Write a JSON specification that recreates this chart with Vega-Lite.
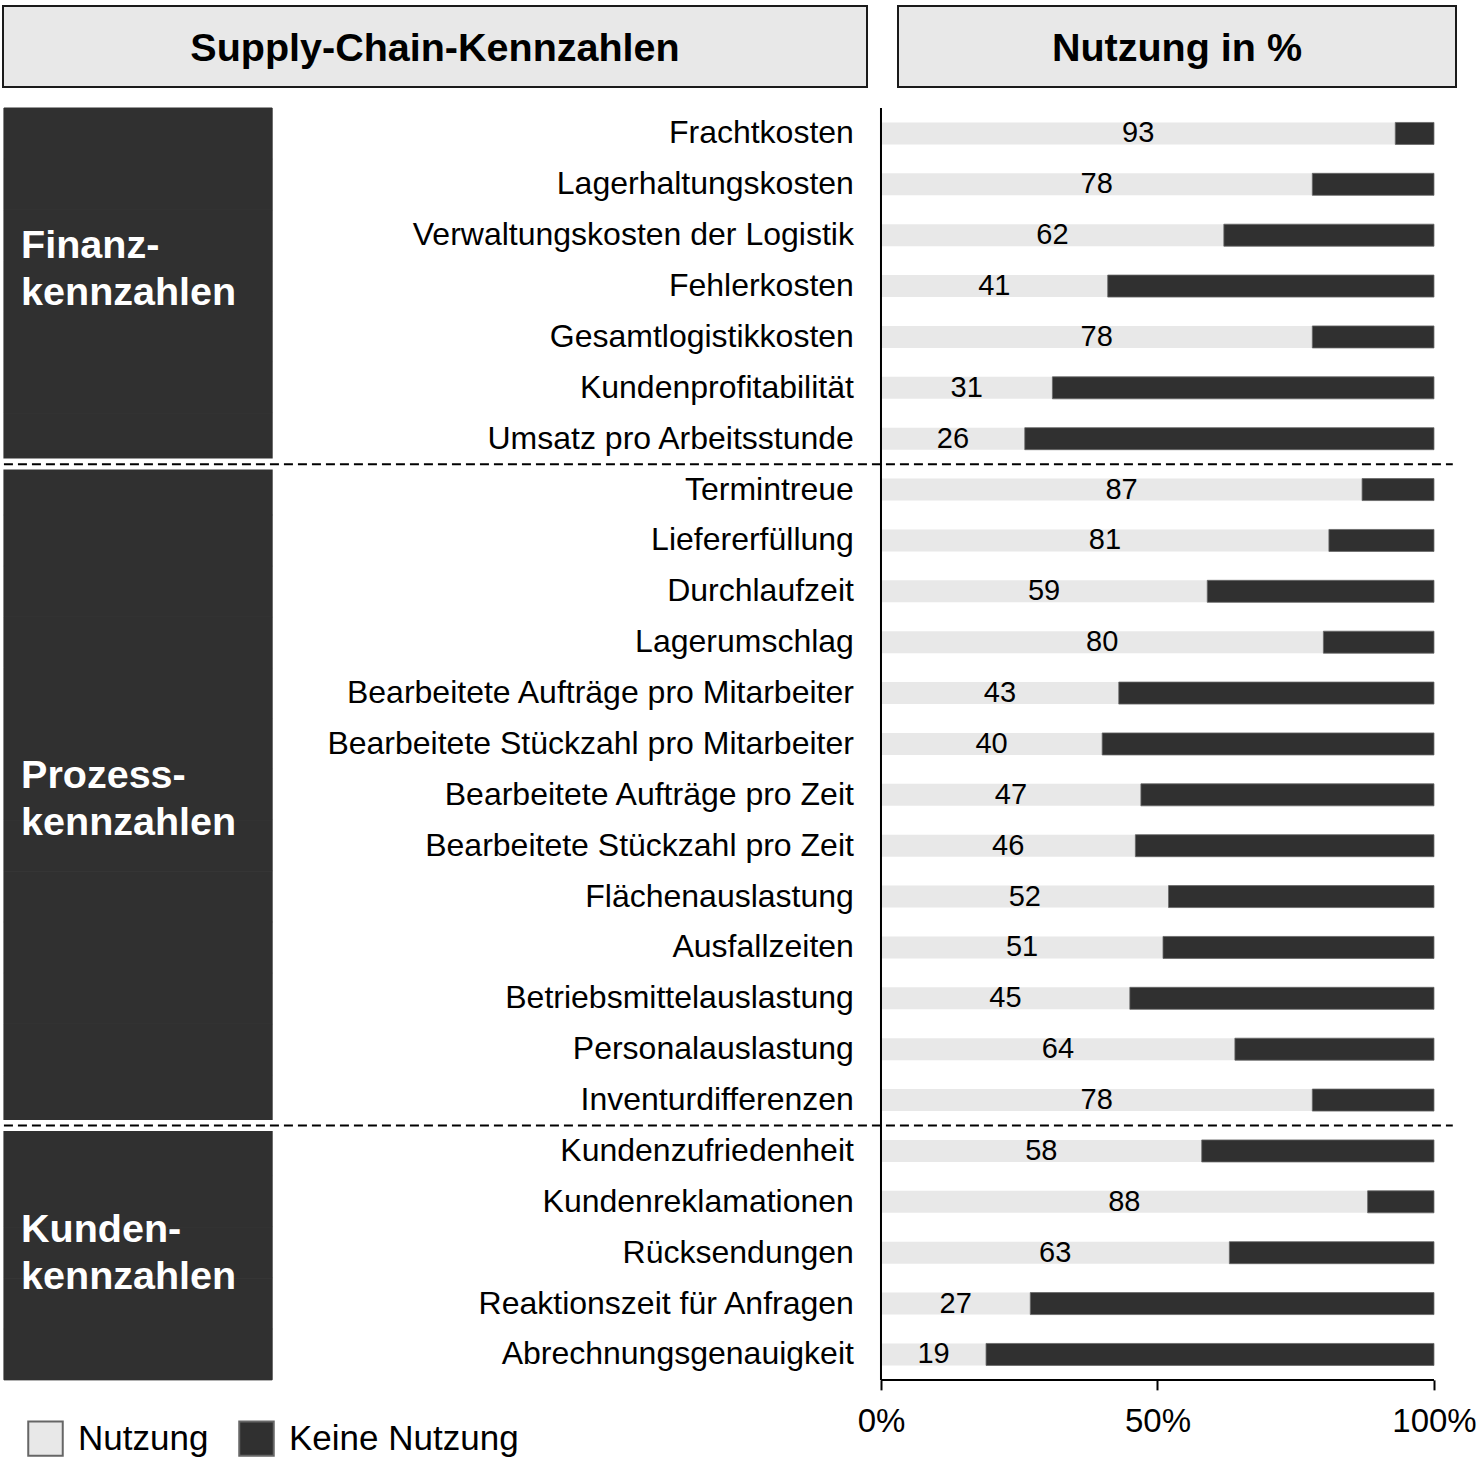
{
  "$schema": "https://vega.github.io/schema/vega-lite/v6.json",
  "background": "white",
  "padding": {"left": 2, "top": 5, "right": 0, "bottom": 0},
  "config": {"font": "Liberation Sans", "view": {"stroke": null}},
  "datasets": {
    "kopf": [{"titel": "Supply-Chain-Kennzahlen"}, {"titel": "Nutzung in %"}],
    "gruppen": [
      {"gruppe": "Finanz", "label": "Finanz-\nkennzahlen"},
      {"gruppe": "Prozess", "label": "Prozess-\nkennzahlen"},
      {"gruppe": "Kunden", "label": "Kunden-\nkennzahlen"}
    ],
    "kennzahlen": [
      {"gruppe": "Finanz", "kennzahl": "Frachtkosten", "nutzung": 93},
      {"gruppe": "Finanz", "kennzahl": "Lagerhaltungskosten", "nutzung": 78},
      {"gruppe": "Finanz", "kennzahl": "Verwaltungskosten der Logistik", "nutzung": 62},
      {"gruppe": "Finanz", "kennzahl": "Fehlerkosten", "nutzung": 41},
      {"gruppe": "Finanz", "kennzahl": "Gesamtlogistikkosten", "nutzung": 78},
      {"gruppe": "Finanz", "kennzahl": "Kundenprofitabilität", "nutzung": 31},
      {"gruppe": "Finanz", "kennzahl": "Umsatz pro Arbeitsstunde", "nutzung": 26},
      {"gruppe": "Prozess", "kennzahl": "Termintreue", "nutzung": 87},
      {"gruppe": "Prozess", "kennzahl": "Liefererfüllung", "nutzung": 81},
      {"gruppe": "Prozess", "kennzahl": "Durchlaufzeit", "nutzung": 59},
      {"gruppe": "Prozess", "kennzahl": "Lagerumschlag", "nutzung": 80},
      {"gruppe": "Prozess", "kennzahl": "Bearbeitete Aufträge pro Mitarbeiter", "nutzung": 43},
      {"gruppe": "Prozess", "kennzahl": "Bearbeitete Stückzahl pro Mitarbeiter", "nutzung": 40},
      {"gruppe": "Prozess", "kennzahl": "Bearbeitete Aufträge pro Zeit", "nutzung": 47},
      {"gruppe": "Prozess", "kennzahl": "Bearbeitete Stückzahl pro Zeit", "nutzung": 46},
      {"gruppe": "Prozess", "kennzahl": "Flächenauslastung", "nutzung": 52},
      {"gruppe": "Prozess", "kennzahl": "Ausfallzeiten", "nutzung": 51},
      {"gruppe": "Prozess", "kennzahl": "Betriebsmittelauslastung", "nutzung": 45},
      {"gruppe": "Prozess", "kennzahl": "Personalauslastung", "nutzung": 64},
      {"gruppe": "Prozess", "kennzahl": "Inventurdifferenzen", "nutzung": 78},
      {"gruppe": "Kunden", "kennzahl": "Kundenzufriedenheit", "nutzung": 58},
      {"gruppe": "Kunden", "kennzahl": "Kundenreklamationen", "nutzung": 88},
      {"gruppe": "Kunden", "kennzahl": "Rücksendungen", "nutzung": 63},
      {"gruppe": "Kunden", "kennzahl": "Reaktionszeit für Anfragen", "nutzung": 27},
      {"gruppe": "Kunden", "kennzahl": "Abrechnungsgenauigkeit", "nutzung": 19}
    ]
  },
  "spacing": 19,
  "vconcat": [
    {
      "spacing": 29,
      "hconcat": [
        {
          "width": 864, "height": 81,
          "view": {"fill": "#e8e8e8", "stroke": "#1a1a1a", "strokeWidth": 2},
          "data": {"name": "kopf"},
          "transform": [{"filter": "datum.titel == 'Supply-Chain-Kennzahlen'"}],
          "mark": {"type": "text", "fontSize": 39.5, "fontWeight": "bold", "color": "#000", "align": "center", "baseline": "middle", "dy": 2},
          "encoding": {"text": {"field": "titel"}}
        },
        {
          "width": 558, "height": 81,
          "view": {"fill": "#e8e8e8", "stroke": "#1a1a1a", "strokeWidth": 2},
          "data": {"name": "kopf"},
          "transform": [{"filter": "datum.titel == 'Nutzung in %'"}],
          "mark": {"type": "text", "fontSize": 39.5, "fontWeight": "bold", "color": "#000", "align": "center", "baseline": "middle", "dy": 2},
          "encoding": {"text": {"field": "titel"}}
        }
      ]
    },
    {
      "width": 1451,
      "height": {"step": 50.875},
      "data": {"name": "kennzahlen"},
      "layer": [
        {
          "mark": {"type": "bar", "color": "#303030", "stroke": "#303030", "strokeWidth": 1},
          "encoding": {
            "y": {"field": "kennzahl", "type": "nominal", "sort": null, "scale": {"paddingInner": 0, "paddingOuter": 0}, "axis": null},
            "x": {"datum": -158.6, "type": "quantitative",
                  "scale": {"domain": [-158.77, 103.62], "nice": false, "zero": false},
                  "axis": {"title": null, "values": [0, 50, 100], "domain": false, "grid": false, "ticks": true, "tickSize": 10, "tickWidth": 2, "tickColor": "#000", "labelExpr": "datum.value + '%'", "labelFontSize": 33, "labelColor": "#000", "labelPadding": 16, "labelFont": "Liberation Sans"}},
            "x2": {"datum": -110.1}
          }
        },
        {
          "transform": [{"filter": "datum.kennzahl == 'Termintreue' || datum.kennzahl == 'Kundenzufriedenheit'"}],
          "mark": {"type": "bar", "color": "white", "size": 11, "yOffset": -25.44},
          "encoding": {
            "y": {"field": "kennzahl", "type": "nominal", "sort": null},
            "x": {"datum": -158.77, "type": "quantitative"},
            "x2": {"datum": -109.8}
          }
        },
        {
          "transform": [{"filter": "datum.kennzahl == 'Termintreue' || datum.kennzahl == 'Kundenzufriedenheit'"}],
          "mark": {"type": "rule", "color": "#000", "strokeWidth": 2, "strokeDash": [9, 5]},
          "encoding": {
            "y": {"field": "kennzahl", "type": "nominal", "sort": null, "bandPosition": 0},
            "x": {"datum": -158.6, "type": "quantitative"},
            "x2": {"datum": 103.4}
          }
        },
        {
          "mark": {"type": "bar", "size": 22},
          "encoding": {
            "y": {"field": "kennzahl", "type": "nominal", "sort": null},
            "x": {"field": "nutzung", "type": "quantitative", "title": null},
            "x2": {"datum": 0},
            "color": {"datum": "Nutzung",
                      "scale": {"domain": ["Nutzung", "Keine Nutzung"], "range": ["#e8e8e8", "#303030"]},
                      "legend": {"orient": "none", "legendX": 24, "legendY": 1414, "direction": "horizontal", "title": null,
                                 "symbolType": "square", "symbolSize": 1190, "symbolStrokeColor": "#000", "symbolStrokeWidth": 2,
                                 "symbolOpacity": 1, "labelFontSize": 35, "labelColor": "#000", "labelOffset": 14, "labelLimit": 400,
                                 "columnPadding": 26, "labelFont": "Liberation Sans"}}
          }
        },
        {
          "mark": {"type": "bar", "size": 22, "stroke": "#666", "strokeWidth": 0.8},
          "encoding": {
            "y": {"field": "kennzahl", "type": "nominal", "sort": null},
            "x": {"field": "nutzung", "type": "quantitative", "title": null},
            "x2": {"datum": 100},
            "color": {"datum": "Keine Nutzung"}
          }
        },
        {
          "transform": [{"filter": "datum.kennzahl == 'Abrechnungsgenauigkeit'"}],
          "mark": {"type": "rule", "color": "#000", "strokeWidth": 2},
          "encoding": {
            "y": {"field": "kennzahl", "type": "nominal", "sort": null, "bandPosition": 1},
            "x": {"datum": 0, "type": "quantitative"},
            "x2": {"datum": 100}
          }
        },
        {
          "transform": [{"filter": "datum.kennzahl == 'Frachtkosten'"}],
          "mark": {"type": "rule", "color": "#000", "strokeWidth": 2},
          "encoding": {
            "x": {"datum": 0, "type": "quantitative"}
          }
        },
        {
          "mark": {"type": "text", "align": "right", "baseline": "middle", "fontSize": 32, "color": "#000"},
          "encoding": {
            "y": {"field": "kennzahl", "type": "nominal", "sort": null},
            "x": {"datum": -4.9, "type": "quantitative"},
            "text": {"field": "kennzahl"}
          }
        },
        {
          "mark": {"type": "text", "align": "center", "baseline": "middle", "fontSize": 29, "color": "#000"},
          "encoding": {
            "y": {"field": "kennzahl", "type": "nominal", "sort": null},
            "x": {"field": "nutzung", "type": "quantitative", "stack": "zero", "bandPosition": 0.5, "title": null},
            "text": {"field": "nutzung"}
          }
        },
        {
          "data": {"name": "gruppen"},
          "transform": [{"filter": "datum.gruppe == 'Finanz'"}],
          "mark": {"type": "text", "align": "left", "baseline": "middle", "fontSize": 39.5, "fontWeight": "bold", "color": "white", "lineBreak": "\n", "lineHeight": 47, "dy": -40},
          "encoding": {
            "y": {"datum": "Fehlerkosten", "type": "nominal"},
            "x": {"datum": -155.5, "type": "quantitative"},
            "text": {"field": "label"}
          }
        },
        {
          "data": {"name": "gruppen"},
          "transform": [{"filter": "datum.gruppe == 'Prozess'"}],
          "mark": {"type": "text", "align": "left", "baseline": "middle", "fontSize": 39.5, "fontWeight": "bold", "color": "white", "lineBreak": "\n", "lineHeight": 47, "dy": -19},
          "encoding": {
            "y": {"datum": "Bearbeitete Aufträge pro Zeit", "type": "nominal"},
            "x": {"datum": -155.5, "type": "quantitative"},
            "text": {"field": "label"}
          }
        },
        {
          "data": {"name": "gruppen"},
          "transform": [{"filter": "datum.gruppe == 'Kunden'"}],
          "mark": {"type": "text", "align": "left", "baseline": "middle", "fontSize": 39.5, "fontWeight": "bold", "color": "white", "lineBreak": "\n", "lineHeight": 47, "dy": -23},
          "encoding": {
            "y": {"datum": "Rücksendungen", "type": "nominal"},
            "x": {"datum": -155.5, "type": "quantitative"},
            "text": {"field": "label"}
          }
        }
      ]
    }
  ]
}
